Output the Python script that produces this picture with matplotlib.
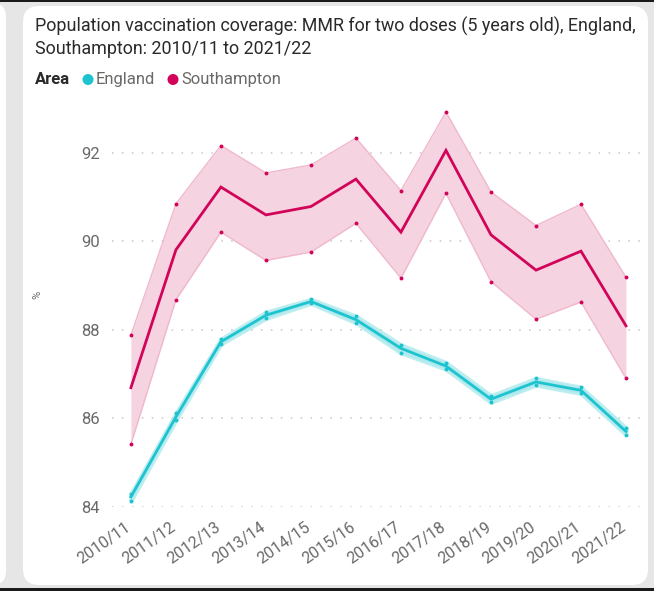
import matplotlib
matplotlib.use("Agg")
import matplotlib.pyplot as plt
import matplotlib.transforms as mtransforms
from matplotlib import font_manager
from matplotlib.patches import FancyBboxPatch, Circle, Rectangle

# ---- data ----
years = ["2010/11", "2011/12", "2012/13", "2013/14", "2014/15", "2015/16",
         "2016/17", "2017/18", "2018/19", "2019/20", "2020/21", "2021/22"]

southampton = [86.69, 89.81, 91.23, 90.60, 90.79, 91.41,
               90.21, 92.06, 90.15, 89.35, 89.78, 88.09]
southampton_upper = [87.88, 90.85, 92.17, 91.55, 91.73, 92.34,
                     91.15, 92.93, 91.12, 90.36, 90.84, 89.19]
southampton_lower = [85.41, 88.68, 90.21, 89.57, 89.76, 90.41,
                     89.17, 91.09, 89.09, 88.24, 88.63, 86.90]

england = [84.22, 86.03, 87.73, 88.33, 88.64, 88.23,
           87.58, 87.18, 86.43, 86.82, 86.63, 85.70]
england_upper = [84.29, 86.11, 87.79, 88.40, 88.69, 88.31,
                 87.66, 87.26, 86.51, 86.90, 86.70, 85.78]
england_lower = [84.13, 85.96, 87.68, 88.26, 88.60, 88.16,
                 87.48, 87.11, 86.36, 86.75, 86.56, 85.63]

y_ticks = [84, 86, 88, 90, 92]

# ---- styling ----
def pick_font(cands):
    for c in cands:
        try:
            font_manager.findfont(c, fallback_to_default=False)
            return c
        except Exception:
            continue
    return "DejaVu Sans"

FONT = pick_font(["Liberation Sans Narrow", "Roboto", "Liberation Sans"])
plt.rcParams["font.family"] = [FONT, "DejaVu Sans"]

SOTON = "#D1045A"
SOTON_FILL = "#F6D3E0"
SOTON_EDGE = "#F0B8CC"
ENG = "#1DC4CF"
ENG_FILL = "#A9E8EC"
TICK_COL = "#6B6967"
TITLE_COL = "#2B2A29"
BG = "#E6E6E6"

W, H = 654, 591
fig = plt.figure(figsize=(W / 100, H / 100), dpi=100, facecolor=BG)
px = fig.dpi_scale_trans  # 1 unit = 100 px


def P(v):
    return v / 100.0


# frame pieces: black rules, neighbouring panel and the card
fig.patches.append(Rectangle((0, P(H - 2)), P(W), P(2), transform=px,
                             facecolor="#1a1a1a", edgecolor="none", zorder=0))
fig.patches.append(Rectangle((0, 0), P(W), P(3), transform=px,
                             facecolor="#1a1a1a", edgecolor="none", zorder=0))
fig.patches.append(FancyBboxPatch((P(-30), P(6)), P(36), P(H - 9),
                                  boxstyle="round,pad=0,rounding_size=0.14",
                                  transform=px, facecolor="white",
                                  edgecolor="none", zorder=0))
fig.patches.append(FancyBboxPatch((P(23), P(6)), P(648 - 23), P(H - 9 - 6 + 3),
                                  boxstyle="round,pad=0,rounding_size=0.16",
                                  transform=px, facecolor="white",
                                  edgecolor="none", zorder=0))

# title
fig.text(P(35), P(H - 17), "Population vaccination coverage: MMR for two doses (5 years old), England,\nSouthampton: 2010/11 to 2021/22",
         transform=px, ha="left", va="top", fontsize=12.9, color=TITLE_COL,
         linespacing=1.3, zorder=3)

# legend
ly = P(H - 79.5)
fig.text(P(35), ly, "Area", transform=px, ha="left", va="center",
         fontsize=12, fontweight="bold", color=TITLE_COL, zorder=3)
fig.patches.append(Circle((P(88), ly), P(5.5), transform=px, facecolor=ENG,
                          edgecolor="none", zorder=3))
fig.text(P(96), ly, "England", transform=px, ha="left", va="center",
         fontsize=12, color=TICK_COL, zorder=3)
fig.patches.append(Circle((P(173), ly), P(5.5), transform=px, facecolor=SOTON,
                          edgecolor="none", zorder=3))
fig.text(P(181), ly, "Southampton", transform=px, ha="left", va="center",
         fontsize=12, color=TICK_COL, zorder=3)

# plot area
left, right = 112 / W, 644 / W
bottom, top = 1 - 506.6 / H, 1 - 100 / H
ax = fig.add_axes([left, bottom, right - left, top - bottom])
ax.set_zorder(2)
ax.set_facecolor("none")
x = list(range(len(years)))

ax.set_xlim(-0.42, 11.4)
ax.set_ylim(84, 93.2)

for v in y_ticks:
    ax.axhline(v, color="#C8C6C4", lw=1.1, ls=(0, (1, 5.5)), zorder=0)

# Southampton band
ax.fill_between(x, southampton_lower, southampton_upper, color=SOTON_FILL,
                lw=0, zorder=1)
ax.plot(x, southampton_upper, color=SOTON_EDGE, lw=1.0, zorder=2)
ax.plot(x, southampton_lower, color=SOTON_EDGE, lw=1.0, zorder=2)
ax.plot(x, southampton_upper, ls="none", marker="o", ms=1.8, color=SOTON,
        zorder=3)
ax.plot(x, southampton_lower, ls="none", marker="o", ms=1.8, color=SOTON,
        zorder=3)
ax.plot(x, southampton, color=SOTON, lw=2.0, solid_joinstyle="miter",
        zorder=4)

# England band
ax.fill_between(x, england_lower, england_upper, color=ENG_FILL, lw=3.0,
                edgecolor=ENG_FILL, alpha=0.75, zorder=1)
ax.plot(x, england_upper, ls="none", marker="o", ms=1.8, color=ENG, zorder=3)
ax.plot(x, england_lower, ls="none", marker="o", ms=1.8, color=ENG, zorder=3)
ax.plot(x, england, color=ENG, lw=2.0, zorder=4)

for s in ax.spines.values():
    s.set_visible(False)

ax.set_yticks(y_ticks)
ax.set_yticklabels([str(v) for v in y_ticks])
ax.set_xticks(x)
ax.set_xticklabels(years, rotation=35, ha="right", va="top",
                   rotation_mode="anchor")
ax.tick_params(axis="both", length=0, colors=TICK_COL, labelsize=12)
ax.tick_params(axis="x", labelsize=11.5)
ax.tick_params(axis="y", pad=9)
ax.tick_params(axis="x", pad=9)
shift = mtransforms.ScaledTranslation(-6 / 100, 0, fig.dpi_scale_trans)
for lab in ax.get_xticklabels():
    lab.set_transform(lab.get_transform() + shift)

fig.text(P(37), P(H - 295), "%", transform=px, ha="center", va="center",
         rotation=90, fontsize=8, color=TICK_COL, zorder=3)

fig.savefig("out.png", dpi=100, facecolor=BG)
